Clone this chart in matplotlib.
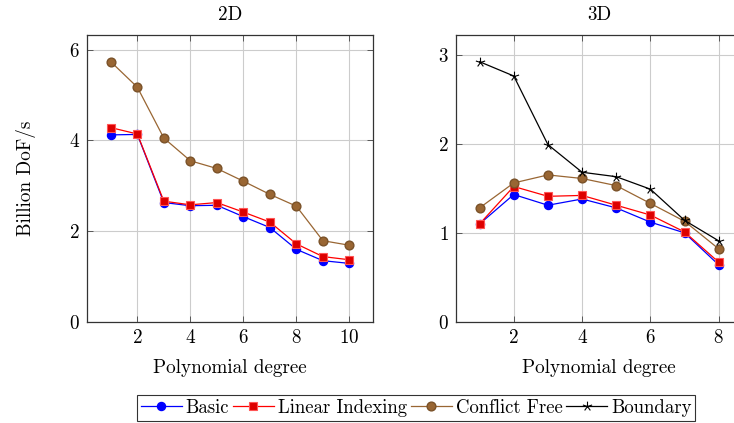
import matplotlib
matplotlib.use("Agg")
import matplotlib.pyplot as plt
from matplotlib.path import Path
import numpy as np

plt.rcParams["font.family"] = "serif"
plt.rcParams["font.serif"] = ["cmr10", "DejaVu Serif"]
plt.rcParams["mathtext.fontset"] = "cm"
plt.rcParams["axes.formatter.use_mathtext"] = True
plt.rcParams["font.size"] = 13.8

# 2D data
deg_2d = [1, 2, 3, 4, 5, 6, 7, 8, 9, 10]
basic_2d = [4.12, 4.13, 2.63, 2.56, 2.57, 2.32, 2.08, 1.60, 1.35, 1.29]
linear_2d = [4.28, 4.14, 2.66, 2.58, 2.63, 2.42, 2.20, 1.72, 1.44, 1.37]
conflict_2d = [5.73, 5.17, 4.05, 3.55, 3.38, 3.10, 2.81, 2.55, 1.79, 1.69]

# 3D data
deg_3d = [1, 2, 3, 4, 5, 6, 7, 8]
basic_3d = [1.10, 1.43, 1.31, 1.38, 1.28, 1.12, 1.00, 0.64]
linear_3d = [1.10, 1.52, 1.41, 1.42, 1.31, 1.20, 1.01, 0.67]
conflict_3d = [1.28, 1.56, 1.65, 1.61, 1.53, 1.33, 1.13, 0.82]
boundary_3d = [2.92, 2.76, 1.99, 1.68, 1.63, 1.49, 1.14, 0.91]

brown = "#996633"

# pgfplots-like asterisk star: five spokes from the centre
ang = np.deg2rad(90 + 72 * np.arange(5))
verts, codes = [], []
for a in ang:
    verts += [(0, 0), (np.cos(a), np.sin(a))]
    codes += [Path.MOVETO, Path.LINETO]
star = Path(verts, codes)

fig = plt.figure(figsize=(7.34, 4.23), dpi=100)
ax1 = fig.add_axes([0.1185, 0.2388, 0.390, 0.6785])
ax2 = fig.add_axes([0.6208, 0.2388, 0.391, 0.6785])


def style(ax):
    ax.grid(True, color="#cccccc", linewidth=0.8)
    ax.set_axisbelow(True)
    ax.tick_params(direction="in", top=True, right=True, length=4, width=0.6,
                   color="#444444", pad=5)
    for s in ax.spines.values():
        s.set_linewidth(0.9)
        s.set_color("#333333")


def draw(ax, x, basic, linear, conflict, boundary=None):
    lines = []
    lines += ax.plot(x, basic, "-", color="blue", lw=0.9, marker="o", ms=5.8,
                     mfc="blue", mec="blue", label="Basic")
    lines += ax.plot(x, linear, "-", color="red", lw=0.9, marker="s", ms=6.0,
                     mfc="#dd0000", mec="#ff5555", mew=0.8, label="Linear Indexing")
    lines += ax.plot(x, conflict, "-", color=brown, lw=0.9, marker="o", ms=6.3,
                     mfc=brown, mec="#7a5229", label="Conflict Free")
    if boundary is not None:
        lines += ax.plot(x, boundary, "-", color="black", lw=0.9, marker=star, ms=7,
                         mfc="none", mec="black", mew=0.8, label="Boundary")
    return lines


draw(ax1, deg_2d, basic_2d, linear_2d, conflict_2d)
ax1.set_xlim(0.1, 10.9)
ax1.set_ylim(0, 6.32)
ax1.set_xticks([2, 4, 6, 8, 10])
ax1.set_yticks([0, 2, 4, 6])
ax1.set_title("2D", fontsize=13.8, pad=11)
ax1.set_xlabel("Polynomial degree", labelpad=9)
ax1.set_ylabel("Billion DoF/s", labelpad=24)
style(ax1)

handles = draw(ax2, deg_3d, basic_3d, linear_3d, conflict_3d, boundary_3d)
ax2.set_xlim(0.3, 8.7)
ax2.set_ylim(0, 3.22)
ax2.set_xticks([2, 4, 6, 8])
ax2.set_yticks([0, 1, 2, 3])
ax2.set_title("3D", fontsize=13.8, pad=11)
ax2.set_xlabel("Polynomial degree", labelpad=9)
style(ax2)

leg = fig.legend(handles=handles, loc="center", bbox_to_anchor=(0.567, 0.0355), ncol=4,
                 frameon=True, fancybox=False, edgecolor="black", handlelength=2.2,
                 handletextpad=0.2, columnspacing=0.2, borderpad=0.2, fontsize=13.5)
leg.get_frame().set_linewidth(0.8)

fig.savefig("out.png", dpi=100)
